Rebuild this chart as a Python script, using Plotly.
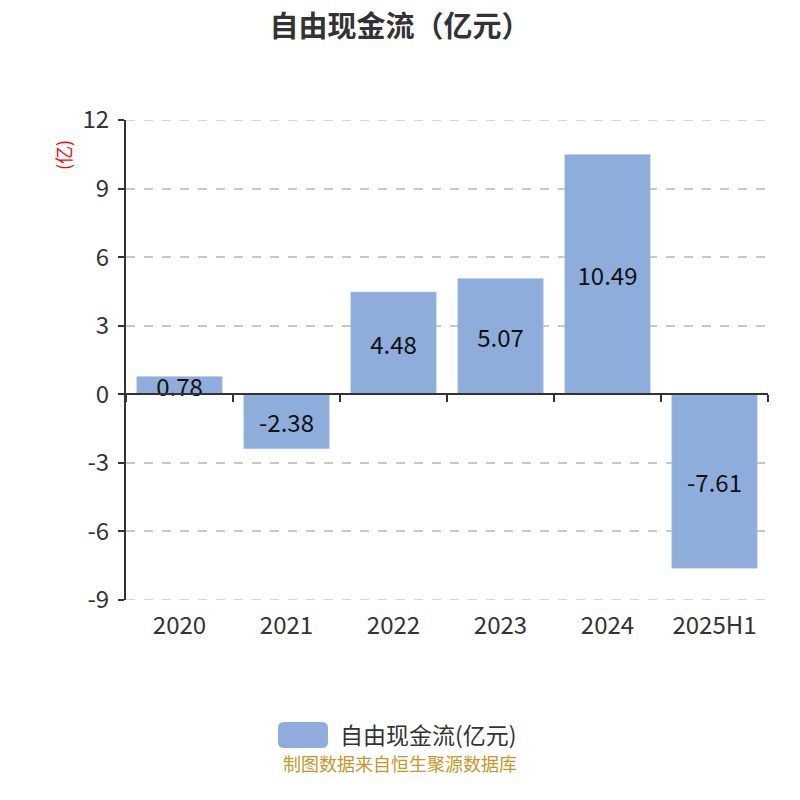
import plotly.graph_objects as go

# 数据
categories = ['2020', '2021', '2022', '2023', '2024', '2025H1']
values = [0.78, -2.38, 4.48, 5.07, 10.49, -7.61]
y_ticks = [12, 9, 6, 3, 0, -3, -6, -9]
series_name = '自由现金流(亿元)'

bar_color = '#8EADDA'
grid_color = '#C8C8C8'
font_family = 'Noto Sans CJK SC, Microsoft YaHei, sans-serif'
y_min, y_max = y_ticks[-1], y_ticks[0]

# page offset from the default body margin
OFF = 8
# plot area in page pixels (used only to place legend/footer decorations)
L, R, T, B = 126, 768, 120, 600


def px_to_paper(x, y):
    return (x - L) / (R - L), (B - y) / (B - T)


def rounded_rect(x0, y0, x1, y1, r):
    # rounded rectangle path in paper coords, corners given in pixels
    def p(x, y):
        px, py = px_to_paper(x, y)
        return f'{px:.5f},{py:.5f}'
    return ' '.join([
        f'M {p(x0 + r, y0)}', f'L {p(x1 - r, y0)}', f'Q {p(x1, y0)} {p(x1, y0 + r)}',
        f'L {p(x1, y1 - r)}', f'Q {p(x1, y1)} {p(x1 - r, y1)}',
        f'L {p(x0 + r, y1)}', f'Q {p(x0, y1)} {p(x0, y1 - r)}',
        f'L {p(x0, y0 + r)}', f'Q {p(x0, y0)} {p(x0 + r, y0)} Z',
    ])


fig = go.Figure()

fig.add_trace(go.Bar(
    x=categories,
    y=values,
    name=series_name,
    marker=dict(color=bar_color, line=dict(color='#B8CCEA', width=0.5)),
    text=[f'{v:.2f}' for v in values],
    textposition='inside',
    insidetextanchor='middle',
    constraintext='none',
    textfont=dict(size=24, color='#111111'),
    hoverinfo='x+y',
    showlegend=False,
))

# invisible trace so the zero-line axis (xaxis2) is drawn
fig.add_trace(go.Scatter(
    x=categories, y=[0] * len(categories), xaxis='x2',
    mode='markers', marker=dict(opacity=0), showlegend=False, hoverinfo='skip',
))

fig.update_layout(
    width=800, height=800,
    paper_bgcolor='white', plot_bgcolor='white',
    font=dict(family=font_family, color='#333333'),
    title=dict(text='<b>自由现金流（亿元）</b>', x=(400 - OFF) / 800, xanchor='center',
               yref='container', y=1 - (27 - OFF) / 800, yanchor='middle',
               font=dict(size=29, color='#333333')),
    margin=dict(l=L - OFF, r=800 - R + OFF, t=T - OFF, b=800 - B + OFF),
    bargap=0.2,
    showlegend=False,
    xaxis=dict(
        type='category', showline=False, ticks='', showgrid=False, zeroline=False,
        tickfont=dict(size=24, color='#333333'), ticklabelstandoff=9, automargin=False,
    ),
    xaxis2=dict(
        type='category', matches='x', overlaying='x', anchor='free',
        position=(0 - y_min) / (y_max - y_min),
        showline=True, linecolor='#333333', linewidth=2,
        ticks='outside', tickson='boundaries', ticklen=7, tickwidth=2, tickcolor='#333333',
        showticklabels=False, showgrid=False, zeroline=False, automargin=False,
    ),
    yaxis=dict(
        range=[y_min, y_max], tickvals=y_ticks, ticktext=[str(t) for t in y_ticks],
        showline=True, linecolor='#333333', linewidth=2,
        ticks='outside', ticklen=6, tickwidth=2, tickcolor='#333333',
        showgrid=True, gridcolor=grid_color, griddash='dash', gridwidth=1.5,
        zeroline=False, tickfont=dict(size=24, color='#333333'),
        ticklabelstandoff=4, automargin=False,
    ),
)

# plotly drops gridlines on the range edges, draw those two as dashed lines
for edge in (y_max, y_min):
    fig.add_shape(type='line', xref='paper', yref='y', x0=0, x1=1, y0=edge, y1=edge,
                  line=dict(color=grid_color, width=1.5, dash='dash'), layer='below')

# y axis unit label
ux, uy = px_to_paper(63, 155)
fig.add_annotation(
    text='(亿)', textangle=-90, xref='paper', yref='paper', x=ux, y=uy,
    xanchor='center', yanchor='middle',
    showarrow=False, font=dict(size=18, color='red'),
)

# legend swatch + label (custom so the swatch is a rounded rectangle)
fig.add_shape(type='path', xref='paper', yref='paper',
              path=rounded_rect(278, 722, 328, 748, 6),
              fillcolor=bar_color, line=dict(width=0))
lx, ly = px_to_paper(338, 734)
fig.add_annotation(
    text=series_name, xref='paper', yref='paper', x=lx, y=ly,
    xanchor='left', yanchor='middle',
    showarrow=False, font=dict(size=23, color='#333333'),
)

# footer
fx, fy = px_to_paper(400, 763)
fig.add_annotation(
    text='制图数据来自恒生聚源数据库', xref='paper', yref='paper', x=fx, y=fy,
    xanchor='center', yanchor='middle',
    showarrow=False, font=dict(size=18, color='#C8962A'),
)

fig.write_html('out.html')
